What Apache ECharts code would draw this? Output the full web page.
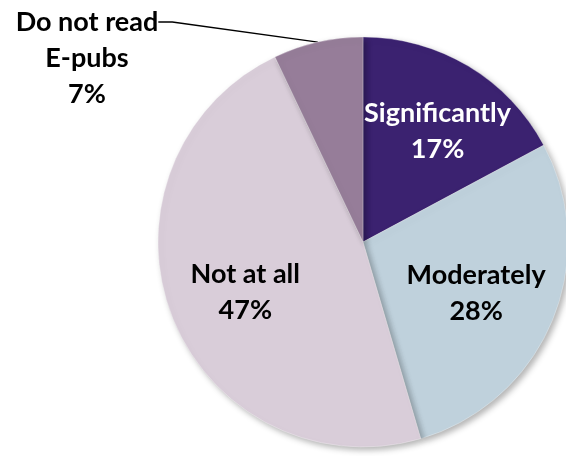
<!DOCTYPE html>
<html>
<head>
<meta charset="utf-8">
<script src="https://cdn.jsdelivr.net/npm/echarts@6/dist/echarts.min.js"></script>
<style>
  html, body { margin: 0; padding: 0; background: #fff; }
  #chart { width: 566px; height: 456px; }
</style>
</head>
<body>
<div id="chart"></div>
<script>
const categories = ["Significantly", "Moderately", "Not at all", "Do not read\nE-pubs"];
const values = [17, 28, 47, 7];
const sliceColors = ["#3b2270", "#bfd1dc", "#d9cdd9", "#967d99"];
const labelColors = ["#ffffff", "#000000", "#000000", "#000000"];
// small nudges so the inside labels sit where the original put them
const labelNudge = [[6, 4], [-10, 0], [7, 3], [0, 0]];

const chart = echarts.init(document.getElementById("chart"));

const font = {
  fontFamily: "Lato",
  fontWeight: "bold",
  fontSize: 27,
  lineHeight: 36,
};

const pieData = categories.map((name, i) => ({
  name,
  value: values[i],
  itemStyle: { color: sliceColors[i] },
}));

chart.setOption({
  animation: false,
  series: [
    {
      // slices + outside label for the small slice
      type: "pie",
      center: [363, 242],
      radius: [0, 205],
      startAngle: 90,
      avoidLabelOverlap: false,
      silent: true,
      itemStyle: {
        borderColor: "rgba(255,255,255,0.6)",
        borderWidth: 0.5,
        shadowBlur: 6,
        shadowOffsetX: 3,
        shadowOffsetY: 3,
        shadowColor: "rgba(0,0,0,0.3)",
      },
      data: pieData.map((d, i) =>
        i === 3
          ? {
              ...d,
              label: {
                show: true,
                position: "outside",
                // two empty lines on top so the leader line meets the first text line
                formatter: "\n\n{b}\n{c}%",
                color: "#000",
                ...font,
              },
              labelLine: {
                show: true,
                length: 10,
                length2: 14,
                lineStyle: { color: "#000", width: 1.3 },
              },
            }
          : { ...d, label: { show: false }, labelLine: { show: false } }
      ),
      labelLayout: (p) =>
        p.dataIndex === 3
          ? { x: 87, y: 22, align: "center", verticalAlign: "middle" }
          : {},
    },
    {
      // transparent overlay that carries the inside labels
      type: "pie",
      center: [363, 242],
      radius: [56, 205],
      startAngle: 90,
      silent: true,
      itemStyle: { color: "rgba(0,0,0,0)" },
      data: categories.map((name, i) => ({
        name,
        value: values[i],
        label: {
          show: i !== 3,
          position: "inside",
          formatter: "{b}\n{c}%",
          color: labelColors[i],
          ...font,
        },
      })),
      labelLayout: (p) => ({
        dx: labelNudge[p.dataIndex][0],
        dy: labelNudge[p.dataIndex][1],
      }),
    },
  ],
});
</script>
</body>
</html>
